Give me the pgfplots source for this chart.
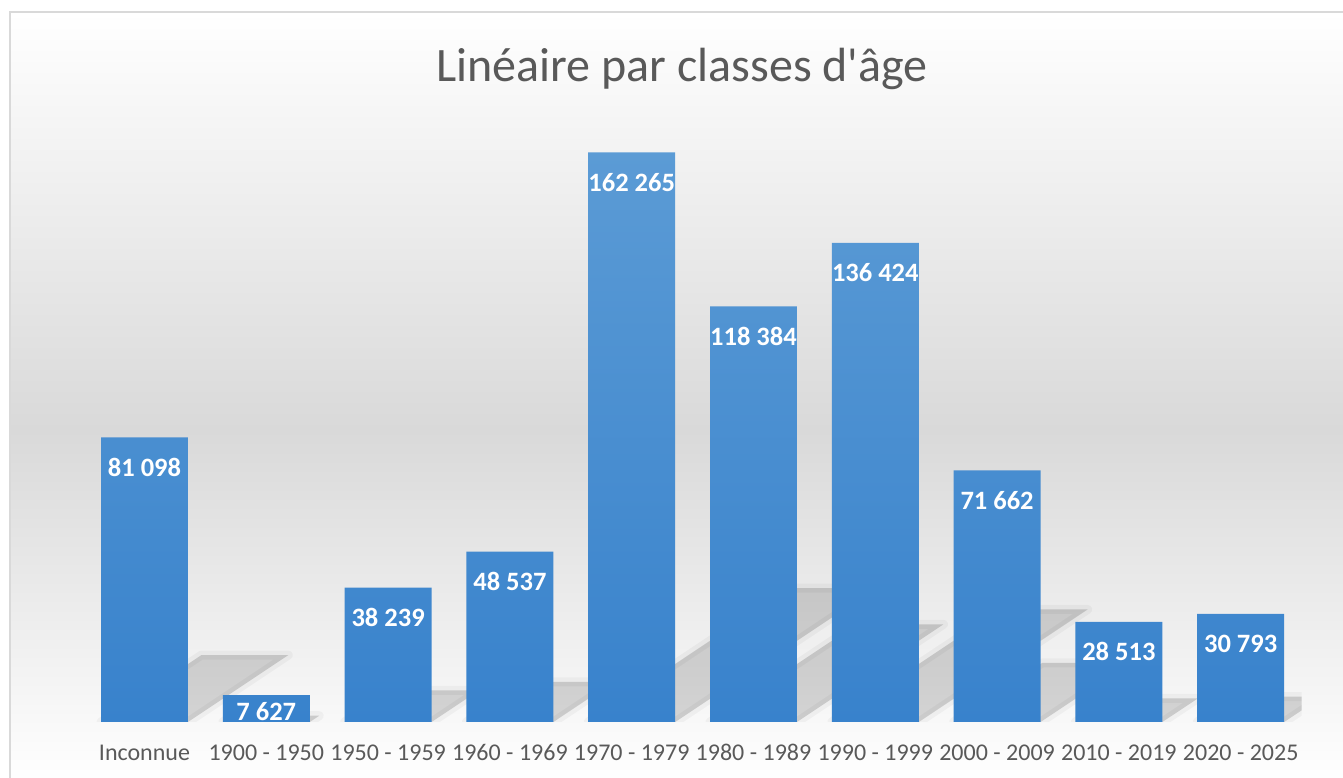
\documentclass[border=0pt]{standalone}
\usepackage{pgfplots}
\usepackage{pgfplotstable}
\pgfplotsset{compat=1.18}
\usepackage{fontspec}
\setmainfont{Carlito}
\definecolor{barTop}{RGB}{91,155,213}
\definecolor{barBot}{RGB}{56,130,204}
\definecolor{txt}{RGB}{89,89,89}
\definecolor{bgmid}{RGB}{217,217,217}
\definecolor{framec}{RGB}{217,217,217}
\pgfplotstableread{
x v sh
0 81098 30
1 7627 16.5
2 38239 30
3 48537 30
4 162265 30
5 118384 30
6 136424 30
7 71662 30
8 28513 30
9 30793 30
}\bars
\newcommand{\shadowset}[1]{%
\addplot[forget plot,#1] coordinates {(-0.357,0) (0.467,19058) (1.181,19058) (0.357,0)} \closedcycle;
\addplot[forget plot,#1] coordinates {(0.643,0) (0.7205,1792) (1.4345,1792) (1.357,0)} \closedcycle;
\addplot[forget plot,#1] coordinates {(1.643,0) (2.032,8986) (2.746,8986) (2.357,0)} \closedcycle;
\addplot[forget plot,#1] coordinates {(2.643,0) (3.136,11406) (3.850,11406) (3.357,0)} \closedcycle;
\addplot[forget plot,#1] coordinates {(3.643,0) (5.292,38132) (6.006,38132) (4.357,0)} \closedcycle;
\addplot[forget plot,#1] coordinates {(4.643,0) (5.846,27820) (6.560,27820) (5.357,0)} \closedcycle;
\addplot[forget plot,#1] coordinates {(5.643,0) (7.030,32060) (7.744,32060) (6.357,0)} \closedcycle;
\addplot[forget plot,#1] coordinates {(6.643,0) (7.371,16841) (8.085,16841) (7.357,0)} \closedcycle;
\addplot[forget plot,#1] coordinates {(7.643,0) (7.933,6701) (8.647,6701) (8.357,0)} \closedcycle;
\addplot[forget plot,#1] coordinates {(8.643,0) (8.956,7236) (9.670,7236) (9.357,0)} \closedcycle;
}
\begin{document}
\begin{tikzpicture}
\fill[top color=white, bottom color=bgmid] (10bp,347.5bp) rectangle (1360bp,766bp);
\fill[top color=bgmid, bottom color=white] (10bp,-5bp) rectangle (1360bp,348bp);
\draw[framec, line width=1.5bp] (10bp,-20bp) -- (10bp,766bp) -- (1360bp,766bp);
\node[anchor=base, text=txt, font=\fontsize{48bp}{56bp}\selectfont] at (682bp,696bp) {Linéaire par classes d\textquotesingle âge};
\begin{axis}[
  at={(83.6bp,56bp)}, anchor=south west, scale only axis,
  width=1218bp, height=632bp,
  xmin=-0.5, xmax=9.5, ymin=0, ymax=180000,
  axis line style={draw=none}, ytick=\empty,
  xtick={0,...,9},
  xticklabels={Inconnue,1900 - 1950,1950 - 1959,1960 - 1969,1970 - 1979,1980 - 1989,1990 - 1999,2000 - 2009,2010 - 2019,2020 - 2025},
  major tick length=0pt,
  xticklabel style={anchor=base, yshift=-38bp, text=txt, font=\fontsize{24bp}{28bp}\selectfont},
]
% soft-ish perspective shadows
\shadowset{draw=black, draw opacity=0.035, line width=9bp, line join=round, fill=black, fill opacity=0.15}
% bars
\addplot[ybar, bar width=0.714, draw=none, top color=barTop, bottom color=barBot,
  nodes near coords={\pgfmathprintnumber[fixed, precision=0, 1000 sep={\ }, assume math mode=true]{\pgfplotspointmeta}},
  visualization depends on={\thisrow{sh} \as \lshift},
  every node near coord/.append style={anchor=center, text=white, font=\fontsize{26.5bp}{30bp}\selectfont\bfseries, yshift=-\lshift bp},
] table[x=x, y=v] {\bars};
\end{axis}
\pgfresetboundingbox
\path[use as bounding box] (0,0) rectangle (1343bp,778bp);
\end{tikzpicture}
\end{document}
